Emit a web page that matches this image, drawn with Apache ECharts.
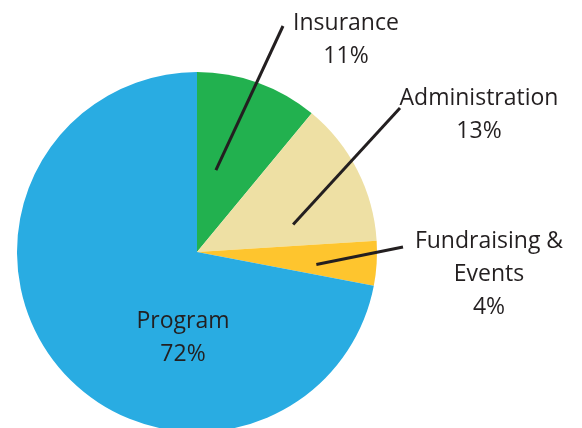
<!DOCTYPE html>
<html>
<head>
<meta charset="utf-8">
<script src="https://cdn.jsdelivr.net/npm/echarts@6/dist/echarts.min.js"></script>
<style>
  html, body { margin: 0; padding: 0; background: #fff; }
  #chart { width: 582px; height: 428px; }
</style>
</head>
<body>
<div id="chart"></div>
<script>
const categories = ['Insurance', 'Administration', 'Fundraising &\nEvents', 'Program'];
const shares = [11, 13, 4, 72];
const colors = ['#22b14f', '#eee0a4', '#fec52e', '#29ace2'];

// pie geometry (px)
const cx = 197, cy = 252, R = 180;
// label block centres and leader line anchors (angle from 12 o'clock, radius px)
const labelPos = [[346, 40], [479, 115], [489, 274], [183, 338]];
const lineStart = [[13, 84], [74, 100], [96, 120], null];
const lineEnd = [[283, 26], [400, 108], [403, 247], null];

function polar(a, r) {
  const t = a * Math.PI / 180;
  return [cx + r * Math.sin(t), cy - r * Math.cos(t)];
}

const chart = echarts.init(document.getElementById('chart'));

const basePie = {
  type: 'pie',
  center: [cx, cy],
  radius: [0, R],
  startAngle: 90,
  clockwise: true,
  silent: true
};

chart.setOption({
  animation: false,
  series: [
    Object.assign({}, basePie, {
      z: 1,
      itemStyle: { borderWidth: 0 },
      label: { show: false },
      labelLine: { show: false },
      data: categories.map((c, i) => ({
        name: c, value: shares[i], itemStyle: { color: colors[i] }
      }))
    }),
    // transparent copy that carries the labels and leader lines on top
    Object.assign({}, basePie, {
      z: 3,
      itemStyle: { color: 'rgba(0,0,0,0)', borderWidth: 0 },
      label: {
        show: true,
        position: 'outside',
        overflow: 'none',
        formatter: p => p.name + '\n' + p.value + '%',
        fontFamily: 'Open Sans',
        fontSize: 23,
        lineHeight: 33,
        color: '#231f20',
        align: 'center'
      },
      labelLine: {
        show: true,
        lineStyle: { color: '#231f20', width: 3 }
      },
      labelLayout: function (p) {
        const i = p.dataIndex;
        const out = {
          x: labelPos[i][0],
          y: labelPos[i][1],
          align: 'center',
          verticalAlign: 'middle',
          hideOverlap: false
        };
        if (lineStart[i]) {
          const s = polar(lineStart[i][0], lineStart[i][1]);
          out.labelLinePoints = [s, lineEnd[i], lineEnd[i]];
        }
        return out;
      },
      data: categories.map((c, i) => ({
        name: c,
        value: shares[i],
        label: i < 3 ? {} : { position: 'inside' },
        labelLine: { show: i < 3 }
      }))
    })
  ]
});
</script>
</body>
</html>
